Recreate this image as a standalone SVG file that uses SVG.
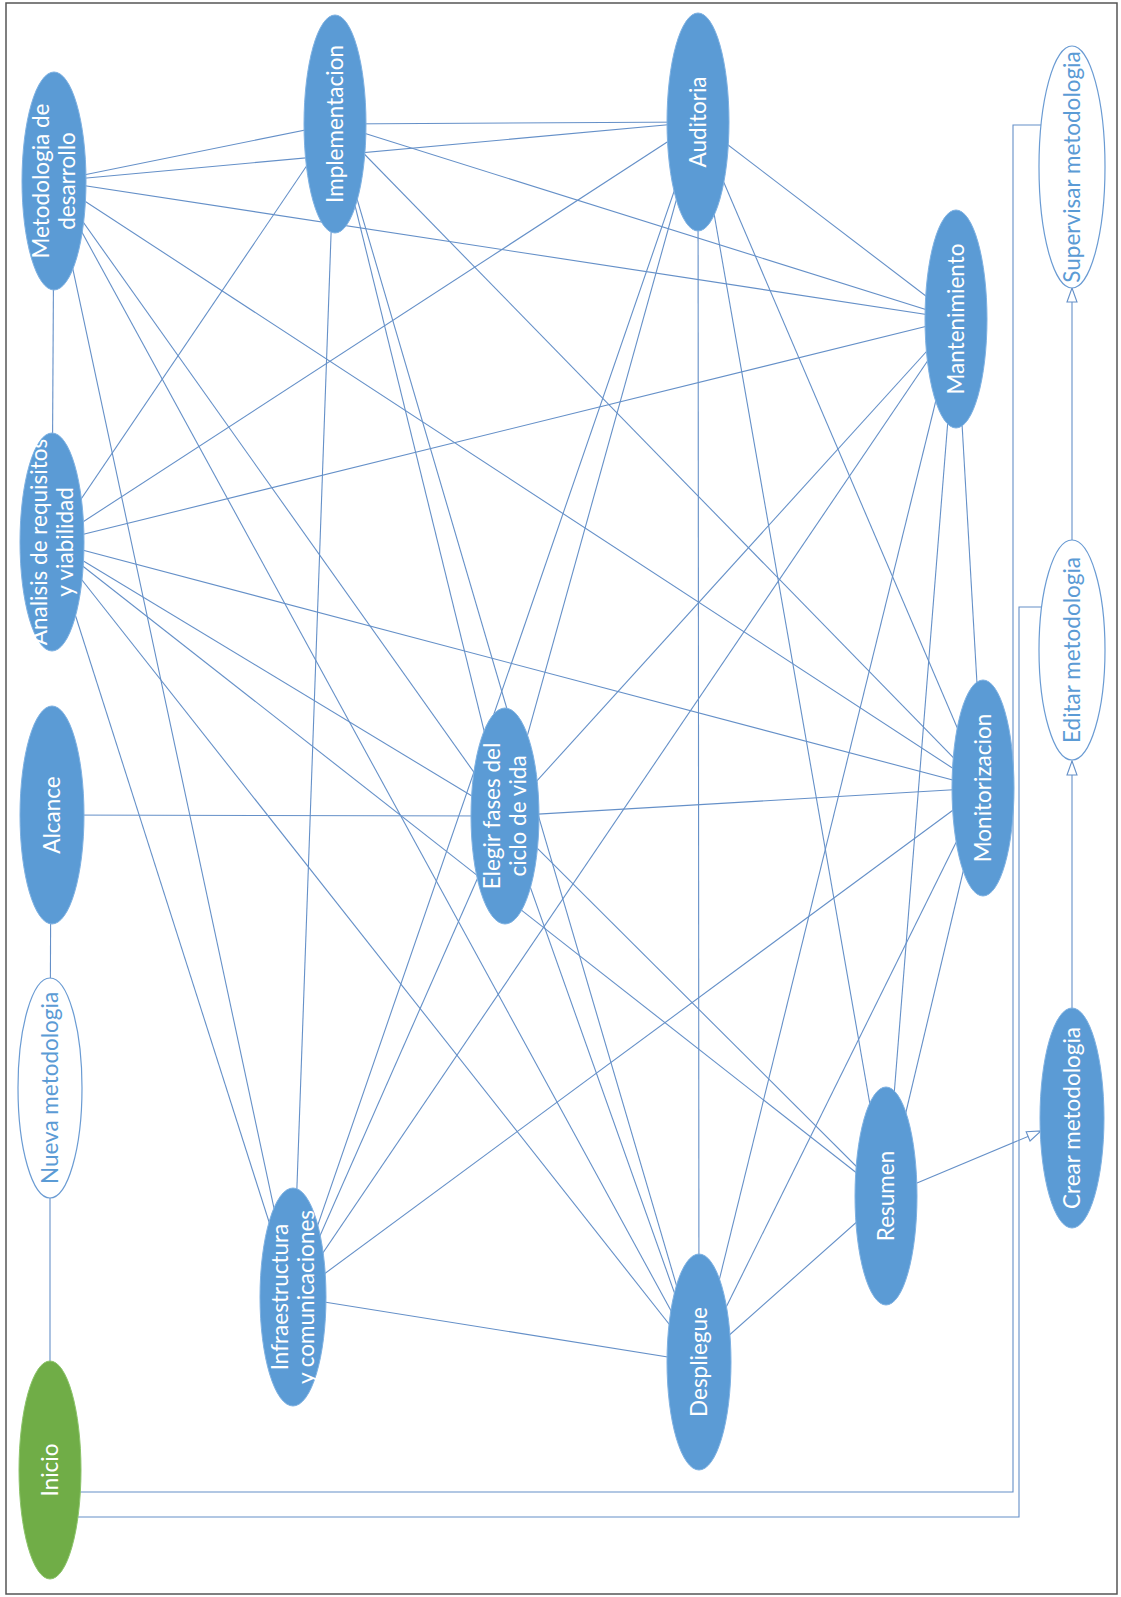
<svg xmlns="http://www.w3.org/2000/svg" width="1121" height="1597" viewBox="0 0 1121 1597">
<style>
.c{stroke:#6590C8;stroke-width:1.1;fill:none}
.n{fill:#5B9BD5;stroke:#7EB1E2;stroke-width:1}
.w{fill:#FFFFFF;stroke:#6A9BD3;stroke-width:1.2}
.g{fill:#70AD47;stroke:#8CC46A;stroke-width:1}
.t{font-family:Lato,"Open Sans","Liberation Sans",sans-serif;font-size:22.5px;fill:#FFFFFF;text-anchor:middle}
.tb{font-family:Lato,"Open Sans","Liberation Sans",sans-serif;font-size:22.5px;fill:#5B9BD5;text-anchor:middle}
</style>
<defs>
<marker id="tri" markerUnits="userSpaceOnUse" markerWidth="16" markerHeight="14" refX="15" refY="6" orient="auto">
<path d="M1,1 L15,6 L1,11 Z" fill="#FFFFFF" stroke="#6590C8" stroke-width="1.1"/>
</marker>
</defs>
<rect x="6" y="3" width="1111" height="1591" fill="#FFFFFF" stroke="#555555" stroke-width="1.5"/>
<g id="connectors">
<line class="c" x1="54" y1="181" x2="52" y2="542"/>
<line class="c" x1="54" y1="181" x2="335" y2="124"/>
<line class="c" x1="54" y1="181" x2="293" y2="1297"/>
<line class="c" x1="54" y1="181" x2="698" y2="122"/>
<line class="c" x1="54" y1="181" x2="505" y2="816"/>
<line class="c" x1="54" y1="181" x2="699" y2="1362"/>
<line class="c" x1="54" y1="181" x2="956" y2="319"/>
<line class="c" x1="54" y1="181" x2="983" y2="788"/>
<line class="c" x1="52" y1="542" x2="335" y2="124"/>
<line class="c" x1="52" y1="542" x2="293" y2="1297"/>
<line class="c" x1="52" y1="542" x2="698" y2="122"/>
<line class="c" x1="52" y1="542" x2="505" y2="816"/>
<line class="c" x1="52" y1="542" x2="699" y2="1362"/>
<line class="c" x1="52" y1="542" x2="956" y2="319"/>
<line class="c" x1="52" y1="542" x2="983" y2="788"/>
<line class="c" x1="52" y1="542" x2="886" y2="1196"/>
<line class="c" x1="335" y1="124" x2="293" y2="1297"/>
<line class="c" x1="335" y1="124" x2="698" y2="122"/>
<line class="c" x1="335" y1="124" x2="505" y2="816"/>
<line class="c" x1="335" y1="124" x2="699" y2="1362"/>
<line class="c" x1="335" y1="124" x2="956" y2="319"/>
<line class="c" x1="335" y1="124" x2="983" y2="788"/>
<line class="c" x1="293" y1="1297" x2="698" y2="122"/>
<line class="c" x1="293" y1="1297" x2="505" y2="816"/>
<line class="c" x1="293" y1="1297" x2="699" y2="1362"/>
<line class="c" x1="293" y1="1297" x2="956" y2="319"/>
<line class="c" x1="293" y1="1297" x2="983" y2="788"/>
<line class="c" x1="698" y1="122" x2="505" y2="816"/>
<line class="c" x1="698" y1="122" x2="699" y2="1362"/>
<line class="c" x1="698" y1="122" x2="956" y2="319"/>
<line class="c" x1="698" y1="122" x2="983" y2="788"/>
<line class="c" x1="698" y1="122" x2="886" y2="1196"/>
<line class="c" x1="505" y1="816" x2="699" y2="1362"/>
<line class="c" x1="505" y1="816" x2="956" y2="319"/>
<line class="c" x1="505" y1="816" x2="983" y2="788"/>
<line class="c" x1="505" y1="816" x2="886" y2="1196"/>
<line class="c" x1="699" y1="1362" x2="956" y2="319"/>
<line class="c" x1="699" y1="1362" x2="983" y2="788"/>
<line class="c" x1="699" y1="1362" x2="886" y2="1196"/>
<line class="c" x1="956" y1="319" x2="983" y2="788"/>
<line class="c" x1="956" y1="319" x2="886" y2="1196"/>
<line class="c" x1="983" y1="788" x2="886" y2="1196"/>
<line class="c" x1="52" y1="815" x2="505" y2="816"/>
<line class="c" x1="51" y1="815" x2="50" y2="1088"/>
<line class="c" x1="50" y1="1088" x2="50" y2="1470"/>
<polyline class="c" points="80,1492 1013,1492 1013,125 1041,125"/>
<polyline class="c" points="78,1517 1019,1517 1019,607 1042,607"/>
<line class="c" x1="917" y1="1183" x2="1041" y2="1131" marker-end="url(#tri)"/>
<line class="c" x1="1072" y1="1008" x2="1072" y2="761" marker-end="url(#tri)"/>
<line class="c" x1="1072" y1="540" x2="1072" y2="288" marker-end="url(#tri)"/>
</g>
<g id="node-metodologia-desarrollo">
<ellipse class="n" cx="54" cy="181" rx="32" ry="109"/>
<text class="t" transform="translate(54,181) rotate(-90)"><tspan x="0" y="-5">Metodologia de</tspan><tspan x="0" y="21">desarrollo</tspan></text>
</g>
<g id="node-analisis">
<ellipse class="n" cx="52" cy="542" rx="32" ry="109"/>
<text class="t" transform="translate(52,542) rotate(-90)"><tspan x="0" y="-5">Analisis de requisitos</tspan><tspan x="0" y="21">y viabilidad</tspan></text>
</g>
<g id="node-alcance">
<ellipse class="n" cx="52" cy="815" rx="32" ry="109"/>
<text class="t" transform="translate(52,815) rotate(-90)" y="8">Alcance</text>
</g>
<g id="node-nueva">
<ellipse class="w" cx="50" cy="1088" rx="32" ry="110"/>
<text class="tb" transform="translate(50,1088) rotate(-90)" y="8">Nueva metodologia</text>
</g>
<g id="node-inicio">
<ellipse class="g" cx="50" cy="1470" rx="31" ry="109"/>
<text class="t" transform="translate(50,1470) rotate(-90)" y="8">Inicio</text>
</g>
<g id="node-implementacion">
<ellipse class="n" cx="335" cy="124" rx="31" ry="109"/>
<text class="t" transform="translate(335,124) rotate(-90)" y="8">Implementacion</text>
</g>
<g id="node-infraestructura">
<ellipse class="n" cx="293" cy="1297" rx="33" ry="109"/>
<text class="t" transform="translate(293,1297) rotate(-90)"><tspan x="0" y="-5">Infraestructura</tspan><tspan x="0" y="21">y comunicaciones</tspan></text>
</g>
<g id="node-auditoria">
<ellipse class="n" cx="698" cy="122" rx="31" ry="109"/>
<text class="t" transform="translate(698,122) rotate(-90)" y="8">Auditoria</text>
</g>
<g id="node-elegir">
<ellipse class="n" cx="505" cy="816" rx="34" ry="108"/>
<text class="t" transform="translate(505,816) rotate(-90)"><tspan x="0" y="-5">Elegir fases del</tspan><tspan x="0" y="21">ciclo de vida</tspan></text>
</g>
<g id="node-despliegue">
<ellipse class="n" cx="699" cy="1362" rx="32" ry="108"/>
<text class="t" transform="translate(699,1362) rotate(-90)" y="8">Despliegue</text>
</g>
<g id="node-mantenimiento">
<ellipse class="n" cx="956" cy="319" rx="31" ry="109"/>
<text class="t" transform="translate(956,319) rotate(-90)" y="8">Mantenimiento</text>
</g>
<g id="node-monitorizacion">
<ellipse class="n" cx="983" cy="788" rx="31" ry="108"/>
<text class="t" transform="translate(983,788) rotate(-90)" y="8">Monitorizacion</text>
</g>
<g id="node-resumen">
<ellipse class="n" cx="886" cy="1196" rx="31" ry="109"/>
<text class="t" transform="translate(886,1196) rotate(-90)" y="8">Resumen</text>
</g>
<g id="node-supervisar">
<ellipse class="w" cx="1072" cy="167" rx="33" ry="121"/>
<text class="tb" transform="translate(1072,167) rotate(-90)" y="8">Supervisar metodologia</text>
</g>
<g id="node-editar">
<ellipse class="w" cx="1072" cy="650" rx="33" ry="110"/>
<text class="tb" transform="translate(1072,650) rotate(-90)" y="8">Editar metodologia</text>
</g>
<g id="node-crear">
<ellipse class="n" cx="1072" cy="1118" rx="32" ry="110"/>
<text class="t" transform="translate(1072,1118) rotate(-90)" y="8">Crear metodologia</text>
</g>
</svg>
